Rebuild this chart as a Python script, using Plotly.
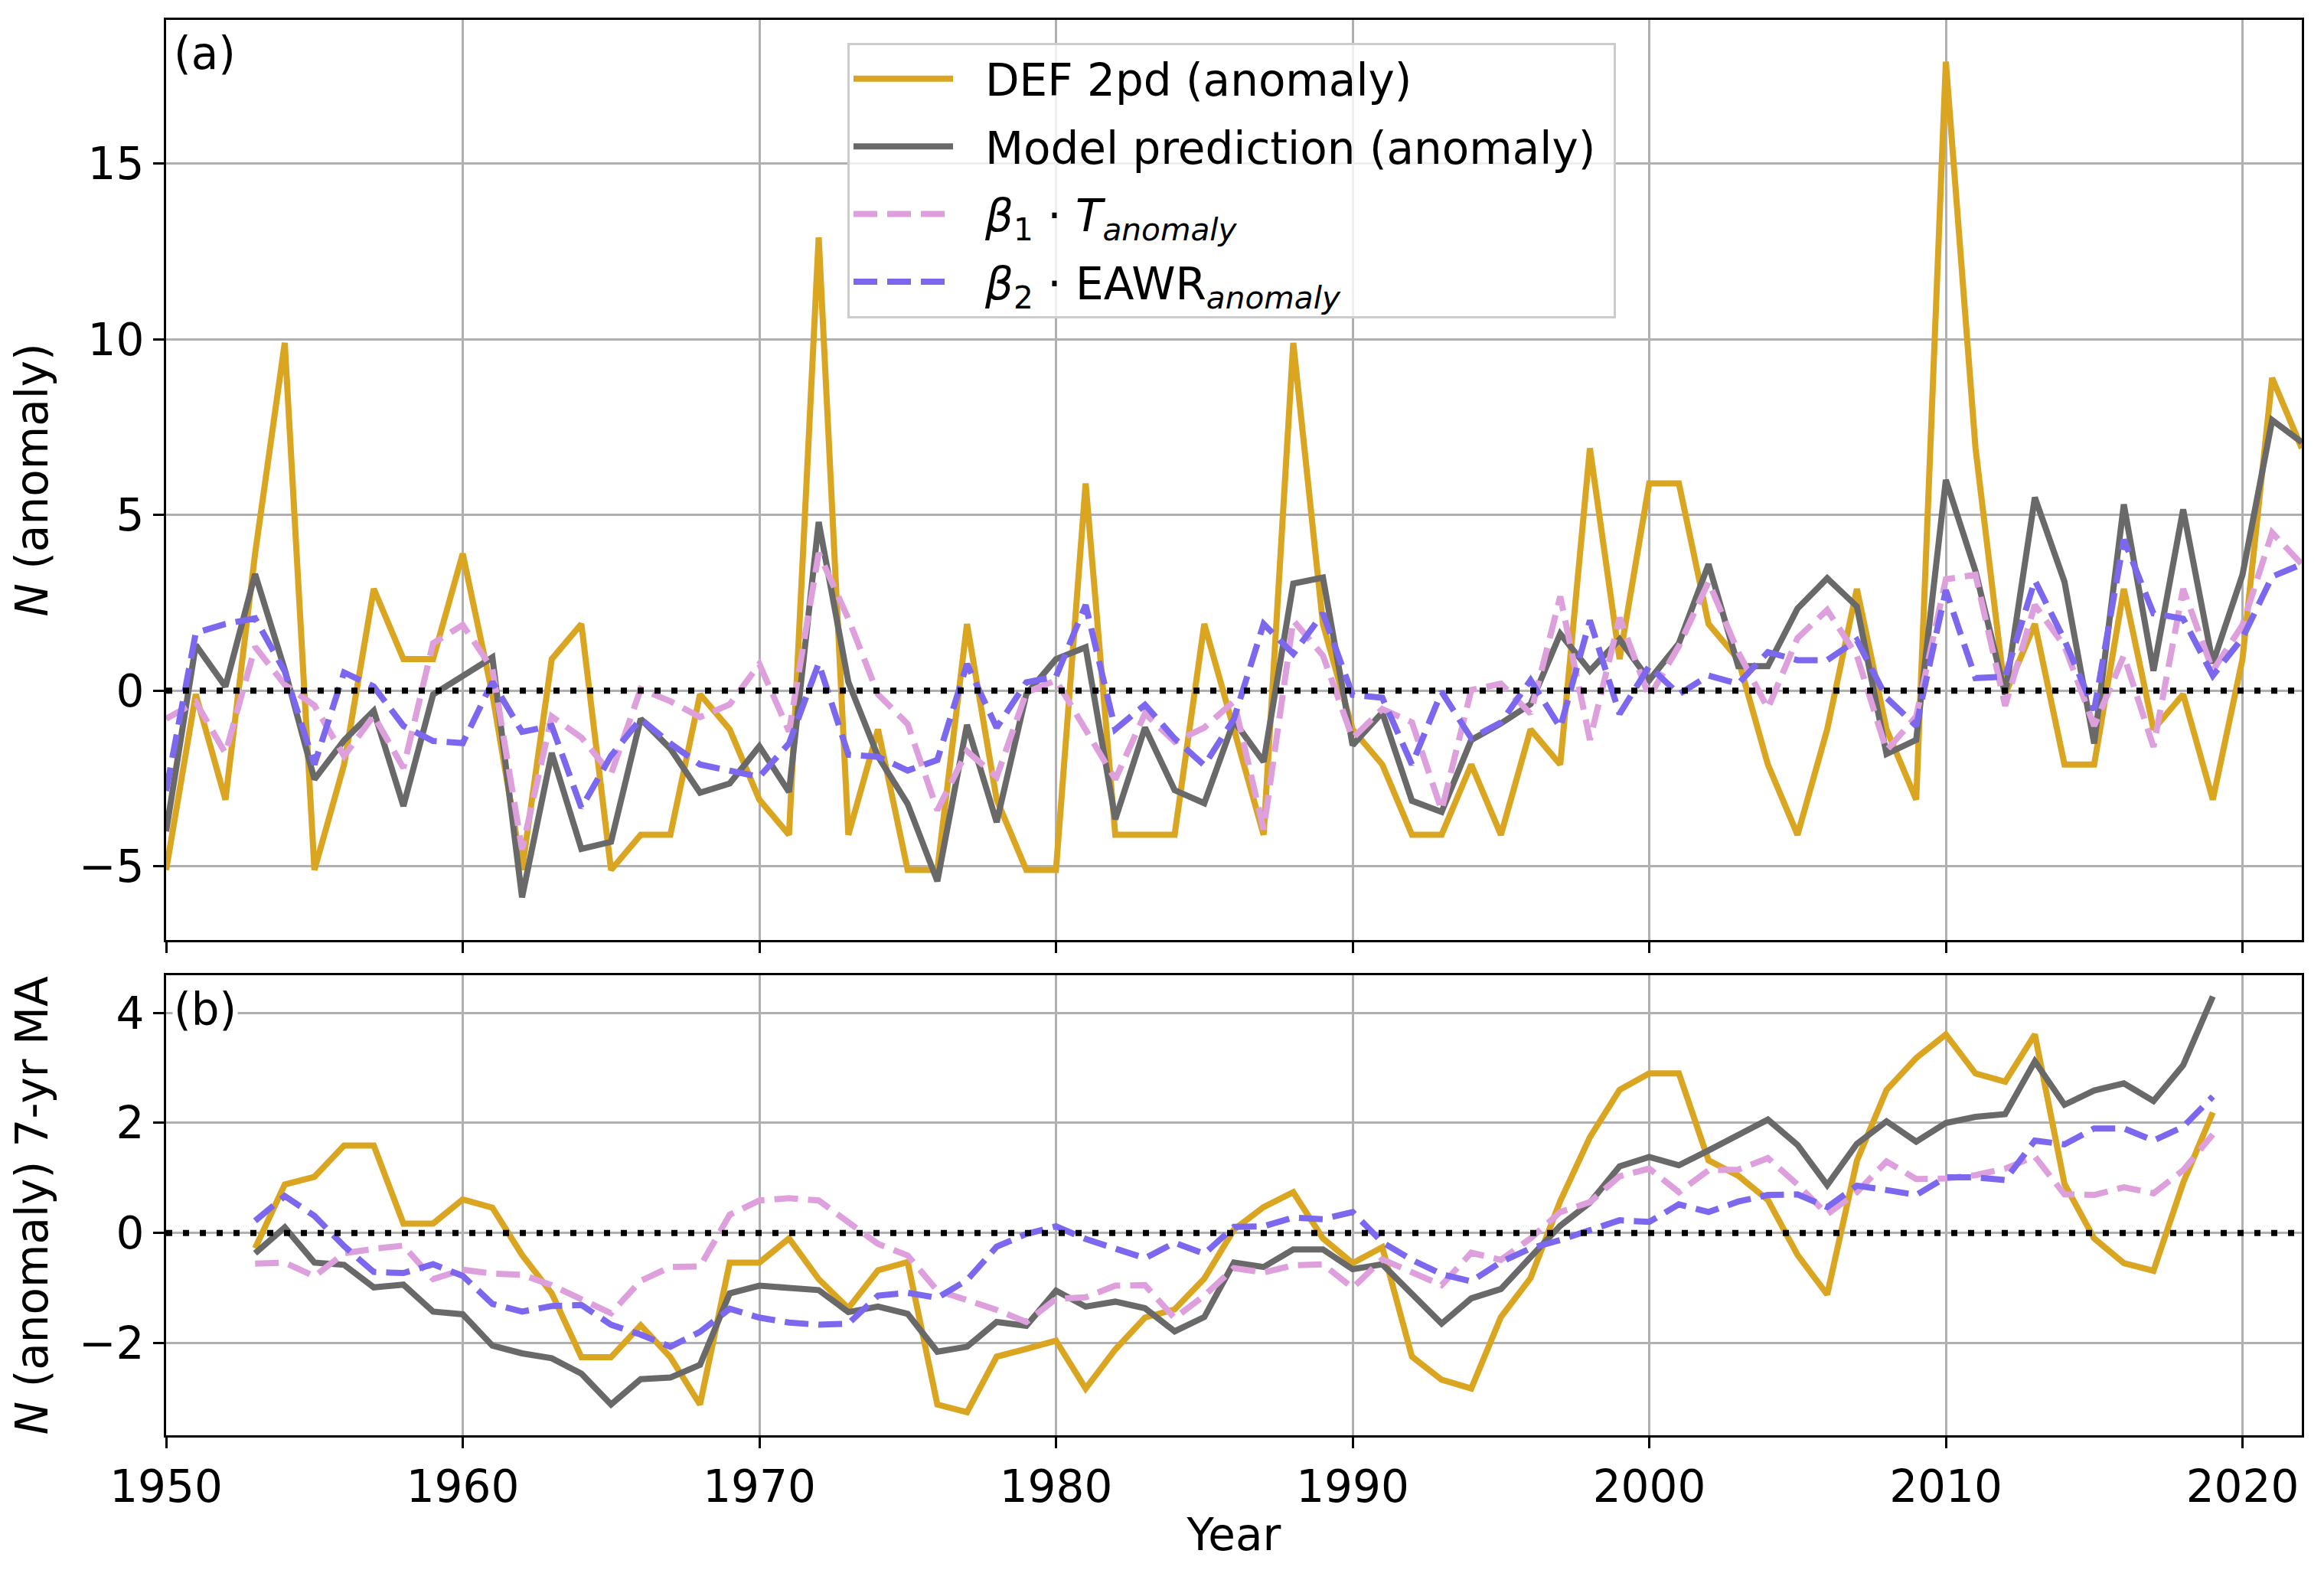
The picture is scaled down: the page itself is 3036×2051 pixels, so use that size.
import plotly.graph_objects as go
from plotly.subplots import make_subplots

years = list(range(1950, 2023))
years_ma = list(range(1953, 2020))

def_anom = [-5.1, -0.1, -3.1, 3.9, 9.9, -5.1, -2.1, 2.9, 0.9, 0.9,
            3.9, -0.1, -5.1, 0.9, 1.9, -5.1, -4.1, -4.1, -0.1, -1.1,
            -3.1, -4.1, 12.9, -4.1, -1.1, -5.1, -5.1, 1.9, -3.1, -5.1,
            -5.1, 5.9, -4.1, -4.1, -4.1, 1.9, -1.1, -4.1, 9.9, 1.9,
            -1.1, -2.1, -4.1, -4.1, -2.1, -4.1, -1.1, -2.1, 6.9, 0.9,
            5.9, 5.9, 1.9, 0.9, -2.1, -4.1, -1.1, 2.9, -1.1, -3.1,
            17.9, 6.9, -0.1, 1.9, -2.1, -2.1, 2.9, -1.1, -0.1, -3.1,
            0.9, 8.9, 6.9]

model_anom = [-4.0, 1.3, 0.12, 3.32, 0.6, -2.52, -1.41, -0.57, -3.28, -0.11,
              0.42, 0.95, -5.88, -1.77, -4.5, -4.3, -0.8, -1.65, -2.9, -2.64,
              -1.58, -2.88, 4.8, 0.25, -1.87, -3.22, -5.42, -0.97, -3.74, -0.1,
              0.9, 1.24, -3.66, -1.05, -2.83, -3.2, -0.86, -2.02, 3.05, 3.22,
              -1.55, -0.62, -3.13, -3.45, -1.4, -0.93, -0.38, 1.62, 0.57, 1.46,
              0.3, 1.35, 3.6, 0.7, 0.7, 2.34, 3.2, 2.4, -1.8, -1.4,
              6.0, 3.4, -0.1, 5.5, 3.1, -1.5, 5.3, 0.57, 5.16, 0.78,
              3.3, 7.7, 7.07]

t_term = [-0.8, -0.32, -1.78, 1.25, 0.17, -0.42, -1.86, -0.71, -2.2, 1.35,
          1.87, 0.62, -4.52, -0.73, -1.33, -2.37, 0.05, -0.3, -0.75, -0.39,
          0.76, -1.16, 3.92, 2.05, -0.1, -0.95, -3.4, -1.72, -2.45, -0.05,
          0.3, -1.1, -2.52, -0.65, -1.45, -1.05, -0.3, -3.95, 2.0, 1.0,
          -1.35, -0.52, -0.9, -3.4, 0.02, 0.2, -0.65, 2.68, -1.4, 2.08,
          -0.18, 1.27, 3.1, 1.1, -0.5, 1.5, 2.3, 1.0, -1.7, -0.73,
          3.17, 3.3, -0.43, 2.44, 1.27, -1.0, 1.0, -1.6, 2.9, 0.57,
          1.87, 4.5, 3.6]

eawr_term = [-2.85, 1.65, 1.9, 2.06, 0.55, -2.1, 0.52, 0.12, -1.0, -1.43,
             -1.49, 0.25, -1.17, -1.0, -3.33, -1.85, -0.8, -1.5, -2.1, -2.27,
             -2.45, -1.5, 0.78, -1.82, -1.88, -2.27, -1.97, 0.76, -1.05, 0.24,
             0.4, 2.44, -1.1, -0.4, -1.36, -2.12, -0.8, 1.9, 1.05, 2.2,
             -0.12, -0.2, -2.1, -0.03, -1.35, -0.9, 0.3, -1.05, 2.0, -0.66,
             0.7, -0.1, 0.43, 0.2, 1.1, 0.87, 0.87, 1.44, -0.2, -1.0,
             2.86, 0.36, 0.4, 3.14, 1.44, -0.55, 4.3, 2.2, 2.05, 0.43,
             1.5, 3.25, 3.6]

def_ma = [-0.28, 0.88, 1.02, 1.59, 1.59, 0.17, 0.17, 0.61, 0.46, -0.4,
          -1.1, -2.26, -2.26, -1.68, -2.26, -3.12, -0.54, -0.54, -0.1, -0.84,
          -1.37, -0.68, -0.53, -3.12, -3.26, -2.25, -2.11, -1.96, -2.83, -2.12,
          -1.54, -1.39, -0.83, 0.06, 0.47, 0.74, -0.1, -0.55, -0.26, -2.25,
          -2.67, -2.83, -1.53, -0.82, 0.58, 1.74, 2.6, 2.9, 2.9, 1.32,
          1.04, 0.6, -0.4, -1.12, 1.31, 2.6, 3.18, 3.61, 2.9, 2.75,
          3.61, 0.89, -0.1, -0.55, -0.69, 0.91, 2.19]

model_ma = [-0.37, 0.1, -0.54, -0.58, -0.99, -0.94, -1.43, -1.48, -2.05, -2.19,
            -2.28, -2.56, -3.12, -2.66, -2.63, -2.4, -1.1, -0.96, -1.0, -1.04,
            -1.44, -1.34, -1.47, -2.16, -2.07, -1.62, -1.69, -1.05, -1.34, -1.25,
            -1.37, -1.79, -1.53, -0.54, -0.62, -0.3, -0.3, -0.66, -0.57, -1.12,
            -1.65, -1.19, -1.02, -0.44, 0.13, 0.55, 1.21, 1.38, 1.23, 1.5,
            1.77, 2.06, 1.6, 0.87, 1.62, 2.03, 1.66, 2.0, 2.11, 2.16,
            3.12, 2.33, 2.59, 2.72, 2.4, 3.05, 4.3]

t_ma = [-0.56, -0.54, -0.79, -0.37, -0.29, -0.23, -0.84, -0.67, -0.74, -0.76,
        -0.95, -1.22, -1.46, -0.87, -0.62, -0.61, 0.33, 0.59, 0.63, 0.59,
        0.19, -0.2, -0.41, -1.05, -1.22, -1.4, -1.62, -1.2, -1.17, -0.96,
        -0.95, -1.55, -1.14, -0.64, -0.72, -0.59, -0.57, -1.0, -0.48, -0.71,
        -0.95, -0.36, -0.49, -0.1, 0.38, 0.56, 1.03, 1.17, 0.74, 1.14,
        1.15, 1.36, 0.88, 0.34, 0.74, 1.3, 0.98, 0.99, 1.05, 1.17,
        1.39, 0.7, 0.69, 0.83, 0.72, 1.14, 1.79]

eawr_ma = [0.22, 0.67, 0.31, -0.24, -0.71, -0.73, -0.57, -0.78, -1.29, -1.43,
           -1.33, -1.31, -1.67, -1.85, -2.07, -1.8, -1.38, -1.54, -1.63, -1.67,
           -1.65, -1.14, -1.09, -1.18, -0.86, -0.25, -0.02, 0.12, -0.11, -0.28,
           -0.46, -0.18, -0.38, 0.11, 0.12, 0.28, 0.25, 0.38, -0.17, -0.49,
           -0.75, -0.88, -0.53, -0.28, -0.13, 0.05, 0.23, 0.2, 0.52, 0.38,
           0.57, 0.69, 0.7, 0.47, 0.86, 0.78, 0.69, 1.01, 1.01, 0.96,
           1.68, 1.61, 1.9, 1.9, 1.68, 1.93, 2.48]

GAP = "\u00a0\u00a0"
labels = [GAP + "DEF 2pd (anomaly)",
          GAP + "Model prediction (anomaly)\u00a0",
          GAP + "<i>β</i><sub>1</sub> · <i>T</i><sub><i>anomaly</i></sub>",
          GAP + "<i>β</i><sub>2</sub> · EAWR<sub><i>anomaly</i></sub>"]
colours = ["#DAA520", "#696969", "#DDA0DD", "#7B68EE"]
dashes = ["solid", "solid", "31px,13px", "31px,13px"]

FONT = "DejaVu Sans"
FS = 58
LW = 8

fig = make_subplots(rows=2, cols=1)

top = [def_anom, model_anom, t_term, eawr_term]
bottom = [def_ma, model_ma, t_ma, eawr_ma]

for i in range(4):
    fig.add_trace(go.Scatter(x=years, y=top[i], mode="lines", name=labels[i],
                             legendgroup="g%d" % i,
                             line=dict(color=colours[i], width=LW, dash=dashes[i])),
                  row=1, col=1)
for i in range(4):
    fig.add_trace(go.Scatter(x=years_ma, y=bottom[i], mode="lines", showlegend=False,
                             line=dict(color=colours[i], width=LW, dash=dashes[i])),
                  row=2, col=1)

# dotted zero lines
for xr, yr in [("x domain", "y"), ("x2 domain", "y2")]:
    fig.add_shape(type="line", xref=xr, yref=yr, x0=0, x1=1, y0=0, y1=0,
                  line=dict(color="black", width=LW, dash="8px,14px"), layer="above")

axis_style = dict(showline=True, linecolor="black", linewidth=3, mirror=True,
                  ticks="outside", ticklen=14, tickwidth=3, tickcolor="black",
                  showgrid=True, gridcolor="#b0b0b0", gridwidth=3, zeroline=False,
                  tickfont=dict(family=FONT, size=FS, color="black"))

fig.update_xaxes(range=[1950, 2022], tickvals=list(range(1950, 2030, 10)), **axis_style)
fig.update_yaxes(**axis_style)
fig.update_xaxes(showticklabels=False, row=1, col=1)
fig.update_xaxes(title=dict(text="Year", font=dict(family=FONT, size=FS, color="black"),
                            standoff=10), row=2, col=1)

# the page body adds 8px, so the figure is 16px smaller than the window
fig.update_layout(
    width=3028,
    height=2043,
    margin=dict(l=209, r=29, t=18, b=176),
    plot_bgcolor="white",
    paper_bgcolor="white",
    font=dict(family=FONT, size=FS, color="black"),
    xaxis=dict(domain=[0, 1]),
    xaxis2=dict(domain=[0, 1]),
    yaxis=dict(domain=[0.35, 1], range=[-7.09, 19.09], tickvals=[-5, 0, 5, 10, 15],
               title=dict(text="<i>N</i> (anomaly)", standoff=24,
                          font=dict(family=FONT, size=FS, color="black"))),
    yaxis2=dict(domain=[0, 0.3248], range=[-3.68, 4.68], tickvals=[-2, 0, 2, 4],
                title=dict(text="<i>N</i> (anomaly) 7-yr MA", standoff=24,
                           font=dict(family=FONT, size=FS, color="black"))),
    legend=dict(x=0.319, y=0.984, xanchor="left", yanchor="top",
                bgcolor="rgba(255,255,255,0.8)", bordercolor="#cccccc", borderwidth=3,
                font=dict(family=FONT, size=FS, color="black"), itemwidth=130,
                tracegroupgap=10),
    annotations=[
        dict(text="(a)", xref="x domain", yref="y domain", x=0.003, y=0.993,
             xanchor="left", yanchor="top", showarrow=False,
             font=dict(family=FONT, size=FS, color="black")),
        dict(text="(b)", xref="x2 domain", yref="y2 domain", x=0.003, y=0.985,
             xanchor="left", yanchor="top", showarrow=False, bgcolor="white",
             font=dict(family=FONT, size=FS, color="black")),
    ],
)

fig.write_html("out.html")
